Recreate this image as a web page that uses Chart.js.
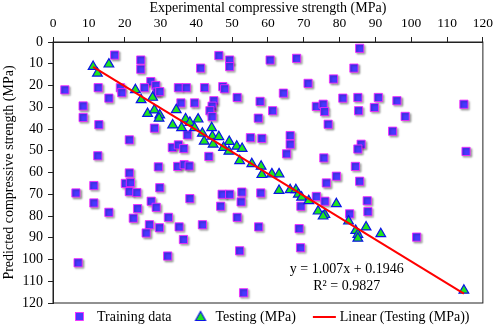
<!DOCTYPE html>
<html>
<head>
<meta charset="utf-8">
<script src="https://cdn.jsdelivr.net/npm/chart.js@4.4.1/dist/chart.umd.min.js"></script>
<style>
  html, body { margin: 0; padding: 0; background: #fff; }
  #wrap { width: 498px; height: 327px; }
</style>
</head>
<body>
<div id="wrap"><canvas id="chartStrength" width="498" height="327"></canvas></div>
<script>
// training data: experimental (x) vs predicted (y), MPa
const trainX = [3.3, 8.4, 8.4, 12.6, 12.8, 12.5, 17.2, 15.6, 18.8, 19.2, 21.3, 24.5, 24.5, 27.3, 25.5, 28.7, 29, 29.8, 28.3, 29.4,
  46.3, 49.3, 49.3, 41.2, 35, 37.2, 42.3, 47.4, 47.9, 51.4, 35.7, 39.5, 44.9, 44.4, 43.8, 44.4, 57.8, 57.3, 55.1, 58.3,
  37.5, 33.3, 35, 36.5, 43.5, 34.8, 36.6, 38, 85.6, 60.6, 68, 84, 71.2, 78.3, 64.3, 61.3, 73.5, 75.4, 75.8, 76.8,
  80.9, 85.1, 85.3, 66.2, 66.2, 65.2, 75.6, 86, 85.1, 84.4, 90.8, 89.7, 96, 98.3, 94.8, 114.7, 115.3, 6.4, 11.4, 11.4,
  15.6, 7, 21.3, 20.2, 21.6, 21.3, 23.4, 27.4, 28.8, 23.6, 22.4, 26.9, 26, 29.7, 29.8, 38.2, 32.2, 35.2, 41.7, 36.4,
  32, 47.2, 49.3, 52.7, 52.5, 46.8, 51.4, 57.4, 58, 52.1, 53.2, 76.3, 79.1, 85.6, 73.5, 75.9, 69.2, 82.8, 87.7, 87.9,
  68.7, 69.1, 101.5]
const trainY = [22, 29.4, 34.7, 21, 38, 52.3, 6, 25.8, 21, 23.3, 45, 8.3, 12.5, 18.2, 21, 20, 23, 22.8, 39.6, 57.4,
  6.2, 8.3, 11.3, 12, 21, 21, 21, 20.5, 21.5, 25.5, 28, 28, 27, 29.5, 31.6, 34.3, 27.3, 35, 44, 44.3,
  42.7, 48.5, 47.3, 49, 52.6, 57.2, 56.4, 57, 2.9, 8.3, 7.5, 12, 19, 17, 23.5, 31.6, 29.6, 28.6, 32, 37.8,
  25.8, 25.5, 31.6, 43, 47, 51.4, 53.3, 47, 49.2, 57.2, 25.5, 30.1, 27, 34.2, 41, 28.6, 50.3, 69.4, 66, 74,
  78.3, 101.5, 60.2, 65, 64.6, 68.8, 69.2, 73.2, 76, 76.6, 81, 84, 87.8, 85.4, 67, 72, 80.6, 85, 84, 90.8,
  98.4, 70, 70, 69, 73.5, 75.5, 80.6, 85, 69.4, 96, 115.3, 64.8, 61.7, 64, 71, 73.2, 75.5, 79, 73, 78,
  85.8, 94.6, 89.7]

// testing data
const testX = [11.2, 12.4, 15.6, 23, 24.6, 27.8, 26.4, 28.3, 29.8, 29.6, 33.4, 34.4, 35.9, 37, 38.2, 40.5, 39.5, 41.7, 44.3, 44.5,
  46.3, 42.2, 44.7, 49.2, 47.6, 49.1, 51.3, 52.8, 52.1, 55.5, 58.1, 58.3, 61.1, 63.1, 63.1, 66.2, 67.8, 68.5, 69.4, 71.4,
  74, 75.9, 75.4, 79.1, 82.5, 84.5, 85.1, 85.1, 87.4, 91.5, 114.7]
const testY = [11.3, 14.4, 10.2, 22, 26.6, 25.5, 32.9, 31.3, 33.6, 35.1, 38.2, 31.2, 39.5, 35.4, 37, 35.5, 39.5, 42, 39.5, 43.4,
  43.6, 45.7, 47, 45.8, 48.5, 50.3, 48, 49, 54.6, 56, 57.2, 61, 60.7, 60.7, 68.3, 68, 68, 70, 71.4, 73,
  77.8, 79.4, 80.1, 74.4, 82.4, 86.7, 88.5, 90.3, 85.1, 88.2, 114.2]

// linear trend of testing set
const fitSlope = 1.007
const fitIntercept = 0.1946
const fitR2 = 0.9827

const fontFamily = "'Liberation Serif', 'Times New Roman', serif";
const trainFill = 'rgb(72,56,255)', trainEdge = '#ff22ff';
const testFill = '#1ee61e', testEdge = '#0a14e6';

const trainPts = trainX.map((x, i) => ({x: x, y: trainY[i]}));
const testPts = testX.map((x, i) => ({x: x, y: testY[i]}));
const xLo = Math.min(...testX), xHi = Math.max(...testX);
const fitPts = [{x: xLo, y: fitSlope * xLo + fitIntercept}, {x: xHi, y: fitSlope * xHi + fitIntercept}];

function icon(draw) {
    var c = document.createElement('canvas');
    c.width = 44; c.height = 14;
    draw(c.getContext('2d'));
    return c;
}
const squareIcon = icon(function (g) {
    g.fillStyle = trainFill; g.fillRect(22.5, 2.5, 8, 8);
    g.strokeStyle = trainEdge; g.lineWidth = 0.8; g.strokeRect(22.5, 2.5, 8, 8);
});
const triIcon = icon(function (g) {
    g.beginPath(); g.moveTo(29, 1.5); g.lineTo(34, 10.5); g.lineTo(24, 10.5); g.closePath();
    g.fillStyle = testFill; g.fill();
    g.strokeStyle = testEdge; g.lineWidth = 1.2; g.stroke();
});
const lineIcon = icon(function (g) {
    g.beginPath(); g.moveTo(17, 7); g.lineTo(40, 7);
    g.strokeStyle = '#ff0000'; g.lineWidth = 2; g.stroke();
});
const legendIcons = [squareIcon, triIcon, lineIcon];

const plotFrame = {
    id: 'plotFrame',
    beforeDatasetsDraw(chart) {
        const a = chart.chartArea, ctx = chart.ctx;
        ctx.save();
        ctx.strokeStyle = '#222';
        ctx.lineWidth = 1;
        ctx.strokeRect(a.left, a.top, a.right - a.left, a.bottom - a.top);
        ctx.restore();
    },
    beforeDatasetDraw(chart, args) {
        if (args.index !== 0) return;
        const ctx = chart.ctx;
        ctx.save();
        ctx.shadowColor = 'rgba(0,0,0,0.35)';
        ctx.shadowBlur = 2;
        ctx.shadowOffsetX = 1.5;
        ctx.shadowOffsetY = 1.5;
    },
    afterDatasetDraw(chart, args) {
        if (args.index !== 0) return;
        chart.ctx.restore();
    },
    afterDatasetsDraw(chart) {
        const ctx = chart.ctx, xs = chart.scales.x, ys = chart.scales.y;
        const cx = xs.getPixelForValue(82);
        ctx.save();
        ctx.fillStyle = '#000';
        ctx.font = '14px ' + fontFamily;
        ctx.textAlign = 'center';
        ctx.textBaseline = 'middle';
        ctx.fillText('y = ' + fitSlope.toFixed(3) + 'x + ' + fitIntercept, cx, ys.getPixelForValue(104.7));
        ctx.fillText('R\u00b2 = ' + fitR2, cx, ys.getPixelForValue(112.4));
        ctx.restore();
    }
};

var ctxStrength = document.getElementById('chartStrength').getContext('2d');
var chartStrength = new Chart(ctxStrength, {
    type: 'scatter',
    data: {
        datasets: [{
            label: 'Training data',
            data: trainPts,
            pointStyle: 'rect',
            pointRadius: 5.8,
            backgroundColor: trainFill,
            borderColor: trainEdge,
            borderWidth: 0.8,
            order: 2
        }, {
            label: 'Testing (MPa)',
            data: testPts,
            pointStyle: 'triangle',
            pointRadius: 5.6,
            backgroundColor: testFill,
            borderColor: testEdge,
            borderWidth: 1.2,
            order: 1
        }, {
            label: 'Linear (Testing (MPa))',
            data: fitPts,
            showLine: true,
            pointRadius: 0,
            borderColor: '#ff0000',
            backgroundColor: '#ff0000',
            borderWidth: 2,
            order: 0
        }]
    },
    options: {
        responsive: false,
        animation: false,
        layout: {padding: {left: 0, right: 12, top: 0, bottom: -7}},
        scales: {
            x: {
                type: 'linear',
                position: 'top',
                min: 0, max: 120,
                ticks: {stepSize: 10, color: '#000', padding: 5, font: {family: fontFamily, size: 13.5}},
                grid: {drawOnChartArea: false, drawTicks: true, tickLength: 5, color: '#222'},
                border: {display: true, color: '#222', width: 1},
                title: {display: true, text: 'Experimental compressive strength (MPa)', color: '#000',
                    padding: {top: 0, bottom: 0}, font: {family: fontFamily, size: 14}},
                afterFit: function (s) { s.height = 42; }
            },
            y: {
                type: 'linear',
                reverse: true,
                min: 0, max: 120,
                ticks: {stepSize: 10, color: '#000', padding: 5, font: {family: fontFamily, size: 14}},
                grid: {drawOnChartArea: false, drawTicks: true, tickLength: 5, color: '#222'},
                border: {display: true, color: '#222', width: 1},
                title: {display: true, text: 'Predicted compressive strength (MPa)', color: '#000',
                    padding: {top: 1, bottom: 0}, font: {family: fontFamily, size: 14}},
                afterFit: function (s) { s.width = 53; }
            }
        },
        plugins: {
            tooltip: {enabled: false},
            legend: {
                position: 'bottom',
                fullSize: false,
                align: 'start',
                labels: {
                    usePointStyle: true,
                    pointStyleWidth: 30,
                    padding: 7,
                    color: '#000',
                    font: {family: fontFamily, size: 14},
                    sort: (a, b) => a.datasetIndex - b.datasetIndex,
                    generateLabels: function (chart) {
                        var items = Chart.defaults.plugins.legend.labels.generateLabels(chart);
                        items.forEach(function (it) { it.pointStyle = legendIcons[it.datasetIndex]; });
                        return items;
                    }
                }
            }
        }
    },
    plugins: [plotFrame]
});
</script>
</body>
</html>
